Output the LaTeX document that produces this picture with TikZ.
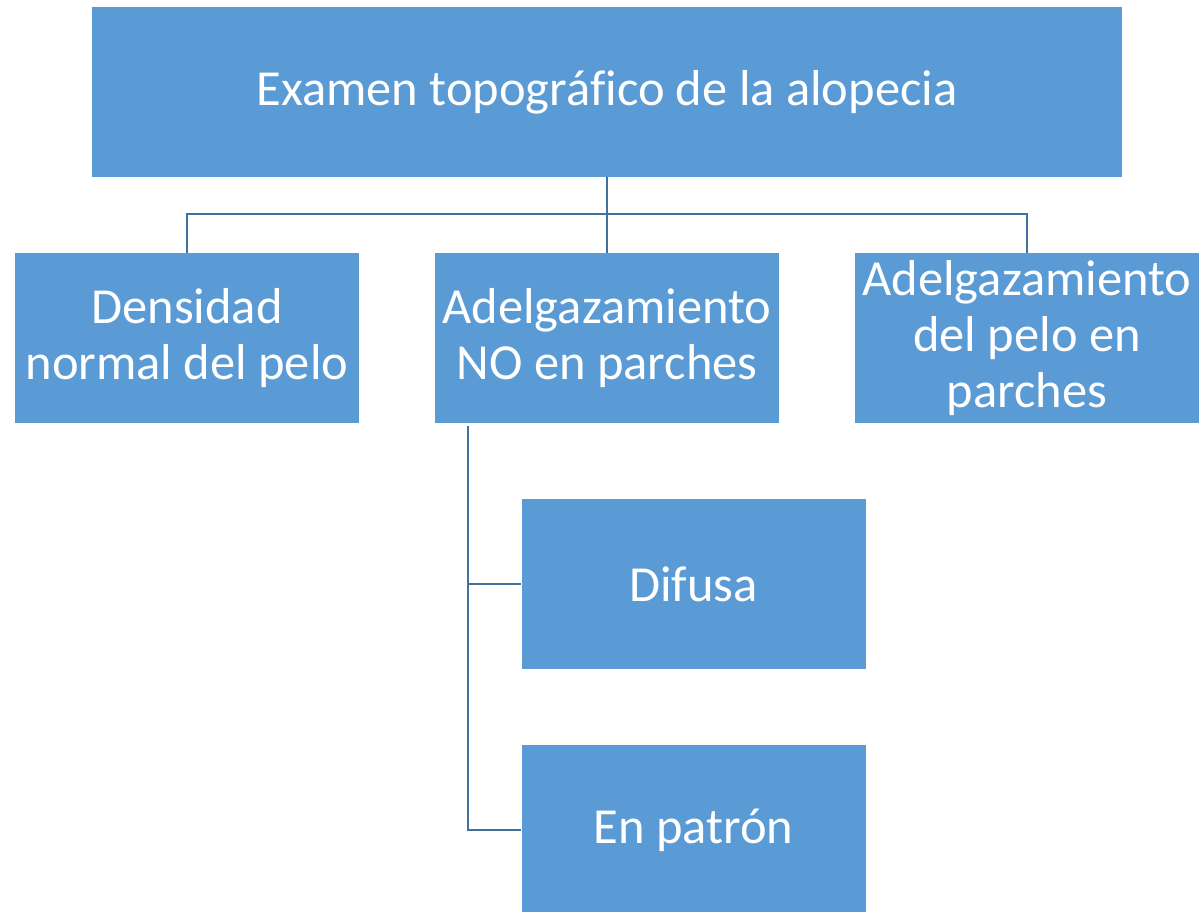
\documentclass[tikz,border=0pt]{standalone}
\usepackage{fontspec}
\setmainfont[Ligatures=NoCommon]{Carlito}
\definecolor{boxblue}{HTML}{5B9BD5}
\definecolor{linkblue}{HTML}{41719C}
\begin{document}
\begin{tikzpicture}[x=1pt,y=-1pt,
    box/.style={fill=boxblue,text=white,minimum width=344pt,minimum height=170pt,
      align=center,inner sep=0pt,font=\fontsize{50.5}{56}\selectfont},
    link/.style={draw=linkblue,line width=2pt}]
    \useasboundingbox (0,0) rectangle (1201,912);
    \node[box,minimum width=1030pt] (top) at (607,92) {Examen topográfico de la alopecia};
    \node[box] (dens) at (187,338) {Densidad\\normal del pelo};
    \node[box] (noparch) at (607,338) {Adelgazamiento\\NO en parches};
    \node[box] (parch) at (1027,338) {Adelgazamiento\\del pelo en\\parches};
    \node[box] (dif) at (693.5,584) {Difusa};
    \node[box] (patr) at (693.5,830) {En patrón};
    \coordinate (j) at (607,214);
    \draw[link] (top) -- (j);
    \draw[link] (dens.north) |- (j) -| (parch.north);
    \draw[link] (j) -- (noparch);
    \coordinate (k) at (468,426);
    \draw[link] (k) |- (dif.west);
    \draw[link] (k) |- (patr.west);
\end{tikzpicture}
\end{document}
